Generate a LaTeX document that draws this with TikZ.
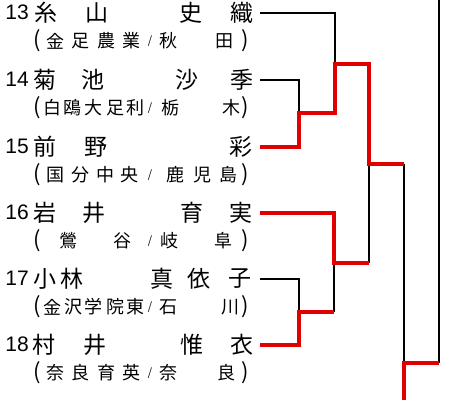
\documentclass[tikz,border=0pt]{standalone}
\usepackage{fontspec}
\usepackage{xcolor}
\newfontfamily\jpfont{Noto Sans CJK JP}
\newfontfamily\numfont{Liberation Sans}
\usetikzlibrary{positioning}
\definecolor{winred}{RGB}{225,0,0}
\tikzset{
  namech/.style={inner sep=0pt,font=\jpfont\fontsize{23}{23}\selectfont},
  schoolch/.style={inner sep=0pt,font=\jpfont\fontsize{18}{18}\selectfont},
  parench/.style={inner sep=0pt,font=\jpfont\fontsize{22}{22}\selectfont},
  slashch/.style={inner sep=0pt,font=\jpfont\fontsize{11}{11}\selectfont},
  seednum/.style={inner sep=0pt,anchor=east,font=\numfont\fontsize{21}{21}\selectfont},
  loseline/.style={line width=1.5pt,black},
  winline/.style={line width=3.3pt,winred},
}
\begin{document}
\begin{tikzpicture}[x=1pt,y=-1pt]
\useasboundingbox (0,0) rectangle (460,400);
% ---------- entries 13 - 18 ----------
\node[seednum] (s13) at (29,12) {13};
\foreach \ch/\cx [count=\k] in {糸/46,山/97,史/191,織/242} {\node[namech] (n13\k) at (\cx,13) {\ch};}
\foreach \ch/\cx [count=\k] in {金/55,足/80,農/106,業/131,秋/168,田/224} {\node[schoolch] (c13\k) at (\cx,41) {\ch};}
\node[parench] (p13) at (37,41) {(};
\node[parench] (q13) at (245,41) {)};
\node[slashch] (d13) at (150,41) {/};

\node[seednum] (s14) at (29,79) {14};
\foreach \ch/\cx [count=\k] in {菊/45,池/93,沙/187,季/242} {\node[namech] (n14\k) at (\cx,80) {\ch};}
\foreach \ch/\cx [count=\k] in {白/52,鴎/72,大/93,足/115,利/135,栃/170,木/231} {\node[schoolch] (c14\k) at (\cx,108) {\ch};}
\node[parench] (p14) at (37,108) {(};
\node[parench] (q14) at (245,108) {)};
\node[slashch] (d14) at (150,108) {/};

\node[seednum] (s15) at (29,146) {15};
\foreach \ch/\cx [count=\k] in {前/45,野/96,彩/241} {\node[namech] (n15\k) at (\cx,147) {\ch};}
\foreach \ch/\cx [count=\k] in {国/55,分/80,中/105,央/129,鹿/175,児/202,島/228} {\node[schoolch] (c15\k) at (\cx,175) {\ch};}
\node[parench] (p15) at (37,175) {(};
\node[parench] (q15) at (245,175) {)};
\node[slashch] (d15) at (150,175) {/};

\node[seednum] (s16) at (29,212) {16};
\foreach \ch/\cx [count=\k] in {岩/45,井/94,育/192,実/241} {\node[namech] (n16\k) at (\cx,213) {\ch};}
\foreach \ch/\cx [count=\k] in {鶯/68,谷/122,岐/169,阜/223} {\node[schoolch] (c16\k) at (\cx,241) {\ch};}
\node[parench] (p16) at (37,241) {(};
\node[parench] (q16) at (245,241) {)};
\node[slashch] (d16) at (150,241) {/};

\node[seednum] (s17) at (29,278) {17};
\foreach \ch/\cx [count=\k] in {小/45,林/72,真/162,依/199,子/240} {\node[namech] (n17\k) at (\cx,279) {\ch};}
\foreach \ch/\cx [count=\k] in {金/52,沢/73,学/93,院/115,東/135,石/168,川/230} {\node[schoolch] (c17\k) at (\cx,307) {\ch};}
\node[parench] (p17) at (37,307) {(};
\node[parench] (q17) at (245,307) {)};
\node[slashch] (d17) at (150,307) {/};

\node[seednum] (s18) at (29,344) {18};
\foreach \ch/\cx [count=\k] in {村/44,井/95,惟/192,衣/242} {\node[namech] (n18\k) at (\cx,345) {\ch};}
\foreach \ch/\cx [count=\k] in {奈/55,良/80,育/106,英/131,奈/168,良/226} {\node[schoolch] (c18\k) at (\cx,373) {\ch};}
\node[parench] (p18) at (37,373) {(};
\node[parench] (q18) at (245,373) {)};
\node[slashch] (d18) at (150,373) {/};

% ---------- bracket ----------
\foreach \r/\ry in {13/13,14/80,15/147,16/213,17/279,18/345} {\coordinate (e\r) at (260,\ry);}
\coordinate (j1415) at (299,113);
\coordinate (j1315) at (335,64);
\coordinate (j1718) at (299,312);
\coordinate (j1618) at (334,263);
\coordinate (jup) at (369,164);
\coordinate (jmid) at (404,363);
\coordinate (jtop) at (439,363);
\coordinate (topend) at (439,0);
\coordinate (botend) at (404,400);
% lost
\draw[loseline] (e13) -| (j1315);
\draw[loseline] (e14) -| (j1415);
\draw[loseline] (e17) -| (j1718);
\draw[loseline] (j1718 -| j1618) -- (j1618);
\draw[loseline] (j1618 -| jup) -- (jup);
\draw[loseline] (jup -| jmid) -- (jmid);
\draw[loseline] (jtop) -- (topend);
% won
\draw[winline] (e15) -| (j1415) -| (j1315) -| (jup) -- (jup -| jmid);
\draw[winline] (e16) -| (j1618) -- (j1618 -| jup);
\draw[winline] (e18) -| (j1718) -- (j1718 -| j1618);
\draw[winline] (botend) |- (jtop);
\end{tikzpicture}
\end{document}
